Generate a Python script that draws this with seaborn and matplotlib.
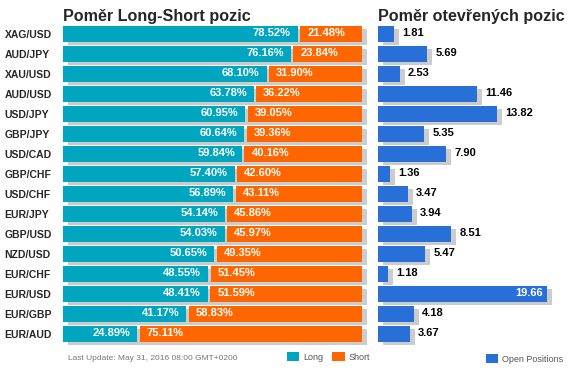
import numpy as np
import pandas as pd
import seaborn as sns
import matplotlib.pyplot as plt
from matplotlib.patches import Patch
from matplotlib.transforms import ScaledTranslation

# data
pairs = ["XAG/USD", "AUD/JPY", "XAU/USD", "AUD/USD", "USD/JPY", "GBP/JPY", "USD/CAD", "GBP/CHF",
         "USD/CHF", "EUR/JPY", "GBP/USD", "NZD/USD", "EUR/CHF", "EUR/USD", "EUR/GBP", "EUR/AUD"]
long_pct = [78.52, 76.16, 68.10, 63.78, 60.95, 60.64, 59.84, 57.40,
            56.89, 54.14, 54.03, 50.65, 48.55, 48.41, 41.17, 24.89]
short_pct = [21.48, 23.84, 31.90, 36.22, 39.05, 39.36, 40.16, 42.60,
             43.11, 45.86, 45.97, 49.35, 51.45, 51.59, 58.83, 75.11]
open_pos = [1.81, 5.69, 2.53, 11.46, 13.82, 5.35, 7.90, 1.36,
            3.47, 3.94, 8.51, 5.47, 1.18, 19.66, 4.18, 3.67]

df = pd.DataFrame({"pair": pairs, "long": long_pct, "short": short_pct, "open": open_pos})
df["total"] = df["long"] + df["short"]

TEAL = "#00A6BF"
ORANGE = "#FF6600"
BLUE = "#2870D8"
SHADOW = "#CCCCCC"

sns.set_style("white")
plt.rcParams["font.family"] = ["Liberation Sans", "DejaVu Sans"]

W, H = 571, 373
fig = plt.figure(figsize=(W / 100, H / 100), dpi=100)

def px_axes(x0, x1, y0, y1):
    return fig.add_axes([x0 / W, 1 - y1 / H, (x1 - x0) / W, (y1 - y0) / H])

ax1 = px_axes(63, 368, 23.5, 343.5)
ax2 = px_axes(378, 565, 23.5, 343.5)

shadow_shift = ScaledTranslation(5 / 100, -3 / 100, fig.dpi_scale_trans)
bar_kw = dict(width=0.8, saturation=1, linewidth=0)

def add_shadow(ax, col):
    n_before = len(ax.patches)
    sns.barplot(data=df, x=col, y="pair", color=SHADOW, ax=ax, zorder=1, **bar_kw)
    for p in ax.patches[n_before:]:
        p.set_transform(ax.transData + shadow_shift)
        p.set_clip_on(False)

# ---- left: long / short ratio
add_shadow(ax1, "total")
sns.barplot(data=df, x="long", y="pair", color=TEAL, ax=ax1, zorder=2, **bar_kw)
gap = 0.85
ypos = np.arange(len(df))
ax1.barh(ypos, df["short"] - gap, left=df["long"] + gap, height=0.8, color=ORANGE,
         linewidth=0, zorder=2)

for i, (lv, sv) in enumerate(zip(df["long"], df["short"])):
    ax1.annotate(f"{lv:.2f}%", (lv, i), xytext=(-5, 0), textcoords="offset points",
                 ha="right", va="center", color="white", fontsize=8, fontweight="bold", zorder=3)
    ax1.annotate(f"{sv:.2f}%", (lv + gap, i), xytext=(5, 0), textcoords="offset points",
                 ha="left", va="center", color="white", fontsize=8, fontweight="bold", zorder=3)

ax1.set_xlim(0, 100 * 305 / 299)
ax1.set_ylim(len(df) - 0.5, -0.5)
ax1.set_xlabel("")
ax1.set_ylabel("")
ax1.set_xticks([])
ax1.tick_params(axis="y", length=0, pad=42)
for t in ax1.get_yticklabels():
    t.set_ha("left")
    t.set_fontsize(7.5)
    t.set_fontweight("bold")
ax1.set_title("Poměr Long-Short pozic", loc="left", fontsize=11.6, fontweight="bold", pad=1)

# ---- right: open positions
add_shadow(ax2, "open")
sns.barplot(data=df, x="open", y="pair", color=BLUE, ax=ax2, zorder=2, **bar_kw)
for i, v in enumerate(df["open"]):
    if v >= 15:
        ax2.annotate(f"{v:.2f}", (v, i), xytext=(-3, 0), textcoords="offset points",
                     ha="right", va="center", color="white", fontsize=8, fontweight="bold", zorder=3)
    else:
        ax2.annotate(f"{v:.2f}", (v, i), xytext=(6, 0), textcoords="offset points",
                     ha="left", va="center", color="black", fontsize=8, fontweight="bold", zorder=3)

ax2.set_xlim(0, 187 / 8.6)
ax2.set_ylim(len(df) - 0.5, -0.5)
ax2.set_xlabel("")
ax2.set_ylabel("")
ax2.set_xticks([])
ax2.set_yticks([])
ax2.set_title("Poměr otevřených pozic", loc="left", fontsize=11.6, fontweight="bold", pad=1)

for ax in (ax1, ax2):
    sns.despine(ax=ax, left=True, bottom=True)

# ---- footer / legends
fig.text(68 / W, 1 - 359 / H, "Last Update: May 31, 2016 08:00 GMT+0200",
         fontsize=6, color="#777777", ha="left", va="center")

leg_kw = dict(frameon=False, fontsize=6.5, handlelength=1.35, handleheight=1.2,
              handletextpad=0.45, columnspacing=1.0, borderpad=0, borderaxespad=0,
              labelcolor="#555555", loc="upper left")
fig.legend(handles=[Patch(color=TEAL, lw=0), Patch(color=ORANGE, lw=0)], labels=["Long", "Short"],
           ncol=2, bbox_to_anchor=(287 / W, 1 - 352 / H), **leg_kw)
fig.legend(handles=[Patch(color=BLUE, lw=0)], labels=["Open Positions"],
           bbox_to_anchor=(486 / W, 1 - 354 / H), **leg_kw)

fig.savefig("out.png", dpi=100)
